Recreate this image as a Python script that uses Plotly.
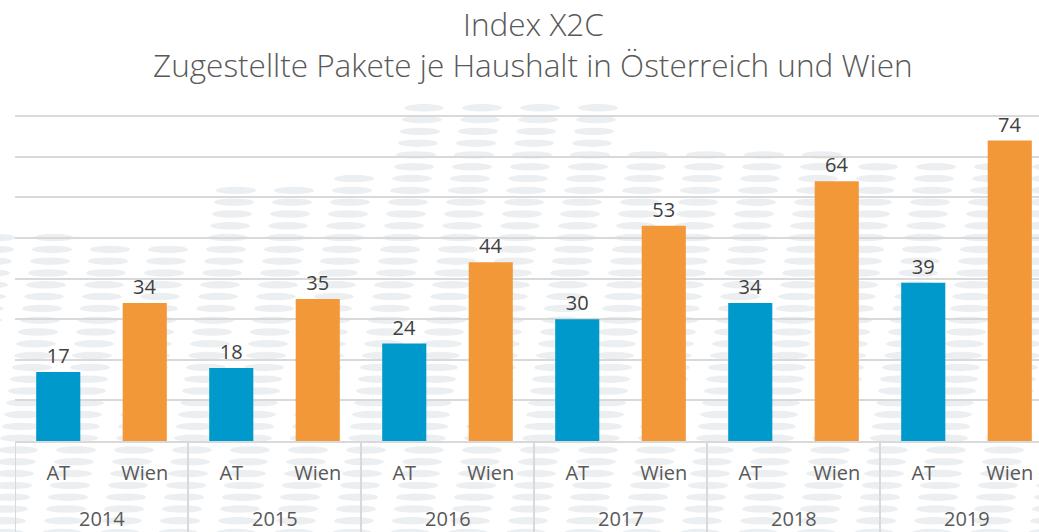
import plotly.graph_objects as go

# ---- data ----
years = ["2014", "2015", "2016", "2017", "2018", "2019"]
series = ["AT", "Wien"]
at_values = [17, 18, 24, 30, 34, 39]
wien_values = [34, 35, 44, 53, 64, 74]
series_colors = {"AT": "#0099CC", "Wien": "#F39838"}

title_line1 = "Index X2C"
title_line2 = "Zugestellte Pakete je Haushalt in Österreich und Wien"

# ---- build flat lists (bar index positions on a linear axis) ----
xpos, labels, vals, cols = [], [], [], []
k = 0
for i, y in enumerate(years):
    for s, v in zip(series, (at_values[i], wien_values[i])):
        xpos.append(k)
        labels.append(s)
        vals.append(v)
        cols.append(series_colors[s])
        k += 1

W, H = 1039, 532
ML, MT = 15, 115
PH = 326
MR = 0
MB = H - MT - PH
PW = W - ML - MR


def py(page_y):
    """page pixel y (from top) -> paper y"""
    return (H - MB - page_y) / PH


def pxx(page_x):
    return (page_x - ML) / PW


CAT_PX = 86.5
x_max = -0.5 + PW / CAT_PX

fig = go.Figure()
fig.add_trace(go.Bar(
    x=xpos, y=vals,
    marker=dict(color=cols, line=dict(width=0)),
    width=0.51,
    text=[str(v) for v in vals], textposition="outside",
    textfont=dict(family="Open Sans", size=20, color="#404040"),
    cliponaxis=False, showlegend=False, hoverinfo="skip",
))

# ---- decorative background ellipse pattern ----
top_steps = [(0, 226), (95, 240), (198, 180), (325, 168), (398, 100),
             (612, 146), (835, 160), (990, 156)]


def top_at(px):
    t = top_steps[0][1]
    for sx, sy in top_steps:
        if px >= sx:
            t = sy
    return t


shapes = []
row_h = 11.8
ew, eh = 40, 7.5
col_w = 58
r = 0
yy = 96.0
while yy < H + 5:
    off = (r * -2.0) % col_w
    xx = -col_w + off
    while xx < W + col_w:
        cx = xx + ew / 2
        if yy >= top_at(cx):
            shapes.append(dict(
                type="circle", xref="paper", yref="paper", layer="below",
                x0=pxx(xx), x1=pxx(xx + ew),
                y0=py(yy + eh / 2), y1=py(yy - eh / 2),
                fillcolor="#ECEFF2", line=dict(width=0),
            ))
        xx += col_w
    yy += row_h
    r += 1

# ---- group dividers (between year groups) on the x scale ----
for i in range(len(years) + 1):
    xb = i * len(series) - 0.5
    shapes.append(dict(
        type="line", xref="x", yref="paper", layer="above",
        x0=xb, x1=xb, y0=0, y1=py(H + 20),
        line=dict(color="#D9D9D9", width=2),
    ))

annotations = [
    dict(text=title_line1, xref="paper", yref="paper",
         x=pxx(533), y=py(23), xanchor="center", yanchor="middle",
         showarrow=False, borderpad=0,
         font=dict(family="Open Sans", size=31.5, color="#595959", weight=300)),
    dict(text=title_line2, xref="paper", yref="paper",
         x=pxx(533), y=py(64), xanchor="center", yanchor="middle",
         showarrow=False, borderpad=0,
         font=dict(family="Open Sans", size=31.5, color="#595959", weight=300)),
]
for i, y in enumerate(years):
    annotations.append(dict(
        text=y, xref="x", yref="paper",
        x=i * len(series) + (len(series) - 1) / 2, y=py(518.5),
        xanchor="center", yanchor="middle", showarrow=False, borderpad=0,
        font=dict(family="Open Sans", size=20, color="#595959"),
    ))

fig.update_layout(
    width=W, height=H,
    margin=dict(l=ML, r=MR, t=MT, b=MB, autoexpand=False),
    paper_bgcolor="white", plot_bgcolor="rgba(0,0,0,0)",
    shapes=shapes, annotations=annotations,
)
fig.update_xaxes(
    range=[-0.5, x_max], automargin=False,
    tickvals=xpos, ticktext=labels,
    showline=True, linecolor="#D9D9D9", linewidth=2,
    tickfont=dict(family="Open Sans", size=20, color="#595959"),
    ticklabelstandoff=13,
    showgrid=False, ticks="", zeroline=False,
)
fig.update_yaxes(
    range=[0, 80.3], dtick=10, showticklabels=False, automargin=False,
    showgrid=True, gridcolor="#D9D9D9", gridwidth=2,
    zeroline=False, showline=False, ticks="",
)

fig.write_html(
    "out.html",
    config={"displayModeBar": False},
    post_script="document.body.style.margin='0';document.body.style.overflow='hidden';",
)
